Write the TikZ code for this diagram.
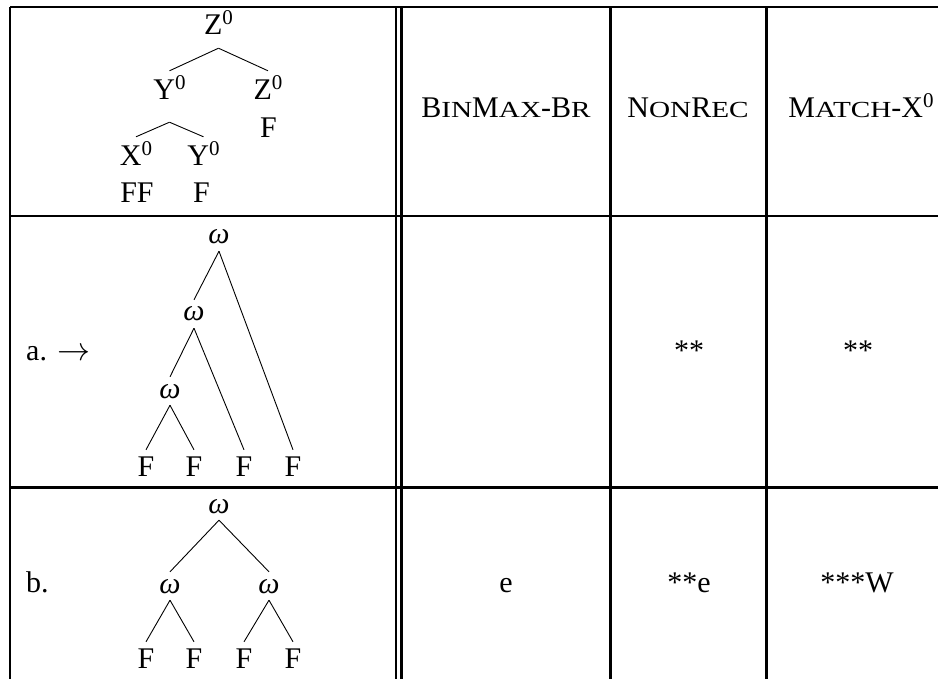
\documentclass[tikz,border=0pt]{standalone}
\usepackage{fix-cm}
\usepackage{graphicx}
\usepackage{fontspec}
\setmainfont{Liberation Serif}
\newcommand\fsz{\fontsize{30}{36}\selectfont}
\newcommand\smc[1]{\scalebox{1.27}[1]{\fontsize{23}{26}\selectfont #1}}
\newcommand\zsup{\raisebox{10pt}{\fontsize{21}{23}\selectfont 0}}
\tikzset{
  rule/.style={line width=2.6pt},
  edge/.style={line width=0.9pt},
  txt/.style={font=\fsz, inner sep=0pt, anchor=base},
  hn/.style={txt, text height=29pt, text depth=13pt},
  wn/.style={txt, text height=21pt, text depth=7pt},
  fn/.style={txt, text height=26pt, text depth=0pt},
}
\begin{document}
\begin{tikzpicture}[x=1pt,y=-1pt]
\useasboundingbox (0,0) rectangle (938,679);
% table rules
\coordinate (tl) at (10,7);
\coordinate (tr) at (938,7);
\coordinate (bl) at (10,679);
\coordinate (r1l) at (10,216);  \coordinate (r1r) at (938,216);
\coordinate (r2l) at (10,487.5);\coordinate (r2r) at (938,487.5);
\coordinate (d1t) at (396,7);   \coordinate (d1b) at (396,679);
\coordinate (d2t) at (401.5,7); \coordinate (d2b) at (401.5,679);
\coordinate (c1t) at (610.7,7); \coordinate (c1b) at (610.7,679);
\coordinate (c2t) at (766.7,7); \coordinate (c2b) at (766.7,679);
\draw[rule] (tl) -- (tr);
\draw[rule] (tl) -- (bl);
\draw[rule] (r1l) -- (r1r);
\draw[rule] (r2l) -- (r2r);
\draw[line width=2.3pt] (d1t) -- (d1b);
\draw[line width=2.3pt] (d2t) -- (d2b);
\draw[rule] (c1t) -- (c1b);
\draw[rule] (c2t) -- (c2b);

% header tree
\node[hn] (hz) at (218.5,35) {Z\zsup};
\node[hn, text depth=22pt] (hy) at (169.5,100) {Y\zsup};
\node[hn] (hz2) at (268,100) {Z\zsup};
\node[txt] (hf) at (268.5,138) {F};
\node[hn] (hx) at (136,166) {X\zsup};
\node[hn] (hy2) at (203.5,166) {Y\zsup};
\node[txt] (hff) at (137,203) {FF};
\node[txt] (hf2) at (201.5,203) {F};
\draw[edge] (hz.south) -- (hy.north);
\draw[edge] (hz.south) -- (hz2.north);
\draw[edge] (hy.south) -- (hx.north);
\draw[edge] (hy.south) -- (hy2.north);

% header labels
\node[txt] (c1) at (506,118) {B\smc{IN}M\smc{AX}-B\smc{R}};
\node[txt] (c2) at (688,118) {N\smc{ON}R\smc{EC}};
\node[txt] (c3) at (861,118) {M\smc{ATCH}-X\zsup};

% row a
\node[txt, anchor=base west] (la) at (26,360) {a. \scalebox{1.1}{$\rightarrow$}};
\node[wn] (a1) at (219,244) {\itshape ω};
\node[wn] (a2) at (194,321) {\itshape ω};
\node[wn] (a3) at (170,398) {\itshape ω};
\node[fn] (af1) at (146,476) {F};
\node[fn] (af2) at (194,476) {F};
\node[fn] (af3) at (244,476) {F};
\node[fn] (af4) at (293,476) {F};
\draw[edge] (a1.south) -- (a2.north);
\draw[edge] (a1.south) -- (af4.north);
\draw[edge] (a2.south) -- (a3.north);
\draw[edge] (a2.south) -- (af3.north);
\draw[edge] (a3.south) -- (af1.north);
\draw[edge] (a3.south) -- (af2.north);
\node[txt] (an) at (689,360) {**};
\node[txt] (am) at (858,360) {**};

% row b
\node[txt, anchor=base west] (lb) at (26,592) {b.};
\node[wn] (b1) at (219,513) {\itshape ω};
\node[wn] (b2) at (170,593) {\itshape ω};
\node[wn] (b3) at (269,593) {\itshape ω};
\node[fn] (bf1) at (146,668) {F};
\node[fn] (bf2) at (194,668) {F};
\node[fn] (bf3) at (244,668) {F};
\node[fn] (bf4) at (293,668) {F};
\draw[edge] (b1.south) -- (b2.north);
\draw[edge] (b1.south) -- (b3.north);
\draw[edge] (b2.south) -- (bf1.north);
\draw[edge] (b2.south) -- (bf2.north);
\draw[edge] (b3.south) -- (bf3.north);
\draw[edge] (b3.south) -- (bf4.north);
\node[txt] (bb) at (506,592) {e};
\node[txt] (bn) at (689,592) {**e};
\node[txt] (bm) at (857,592) {***W};
\end{tikzpicture}
\end{document}
